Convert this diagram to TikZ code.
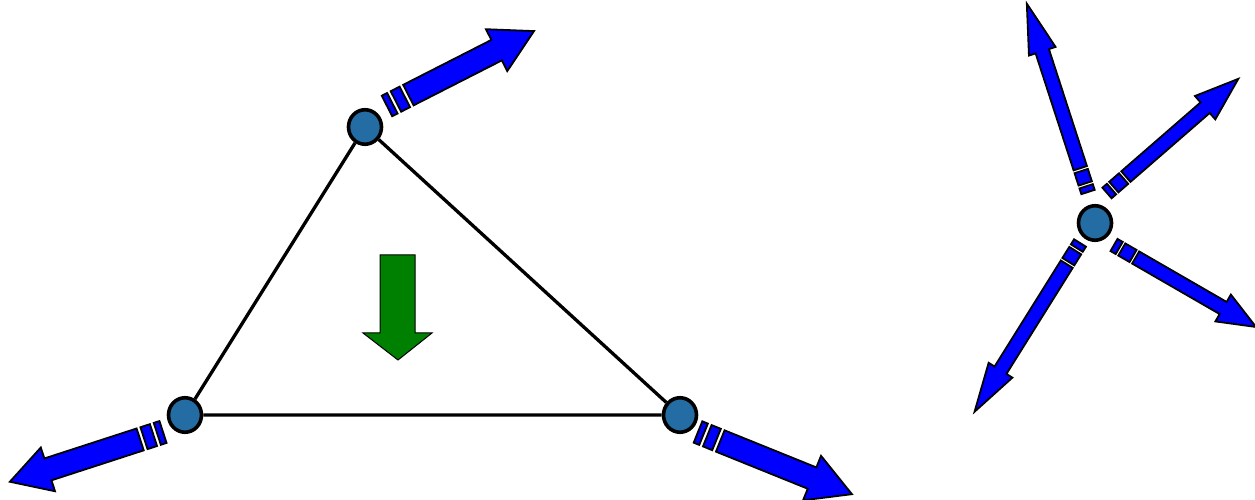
\documentclass[tikz,border=0pt]{standalone}
\usetikzlibrary{shapes.geometric,calc}
\definecolor{nodeblue}{RGB}{36,108,164}
\definecolor{arrowblue}{RGB}{0,0,255}
\definecolor{fallgreen}{RGB}{0,128,0}
\tikzset{
  particle/.style={ellipse, draw=black, line width=3.6pt, fill=nodeblue,
    minimum width=33pt, minimum height=34.5pt, inner sep=0pt},
  arrowpart/.style={draw=black, line width=1.8pt, fill=arrowblue, line join=miter},
  edgeline/.style={line width=3.3pt},
}
% block arrow: start, angle, length, half shaft, half head, head length, thick stripe, gap
\newcommand{\blockarrow}[8]{%
\begin{scope}[shift={#1}, rotate=#2]
  \pgfmathsetmacro{\stripeB}{6+#8}
  \pgfmathsetmacro{\stripeE}{6+#8+#7}
  \pgfmathsetmacro{\bodyS}{6+2*#8+#7}
  \pgfmathsetmacro{\headS}{#3-#6}
  \filldraw[arrowpart] (0,-#4) rectangle (6,#4);
  \filldraw[arrowpart] (\stripeB,-#4) rectangle (\stripeE,#4);
  \filldraw[arrowpart] (\bodyS,-#4) -- (\headS,-#4) -- (\headS,-#5) -- (#3,0)
    -- (\headS,#5) -- (\headS,#4) -- (\bodyS,#4) -- cycle;
\end{scope}}

\begin{document}
\begin{tikzpicture}[x=1pt,y=1pt]
\useasboundingbox (0,0) rectangle (1255,500);

% triangle
\node[particle] (top) at (365,373) {};
\node[particle] (bl) at (185,85) {};
\node[particle] (br) at (680,85) {};
\draw[edgeline] (top) -- (bl) -- (br) -- (top);

\blockarrow{($(top)+(22,21)$)}{27}{165}{11.5}{23.5}{42}{10}{4}
\blockarrow{($(bl)+(-22,-17)$)}{198}{161}{11.5}{23}{40}{10}{4}
\blockarrow{($(br)+(18,-17)$)}{-22}{166}{11.5}{24}{43}{10}{4}

% falling
\filldraw[fill=fallgreen, draw=black, line width=1pt]
  (380,245) -- (415,245) -- (415,167) -- (432,167) -- (398,140)
  -- (363,167) -- (380,167) -- cycle;

% single particle
\node[particle] (star) at (1095,277) {};
\blockarrow{($(star)+(-7,31)$)}{108}{198}{7}{14}{50}{13}{3}
\blockarrow{($(star)+(12,30)$)}{41}{174}{7}{15.5}{44}{13}{3}
\blockarrow{($(star)+(19,-22)$)}{-30}{164}{7}{15.5}{38}{13}{3}
\blockarrow{($(star)+(-15,-20)$)}{238}{199}{7}{14}{49}{13}{3}
\end{tikzpicture}
\end{document}
